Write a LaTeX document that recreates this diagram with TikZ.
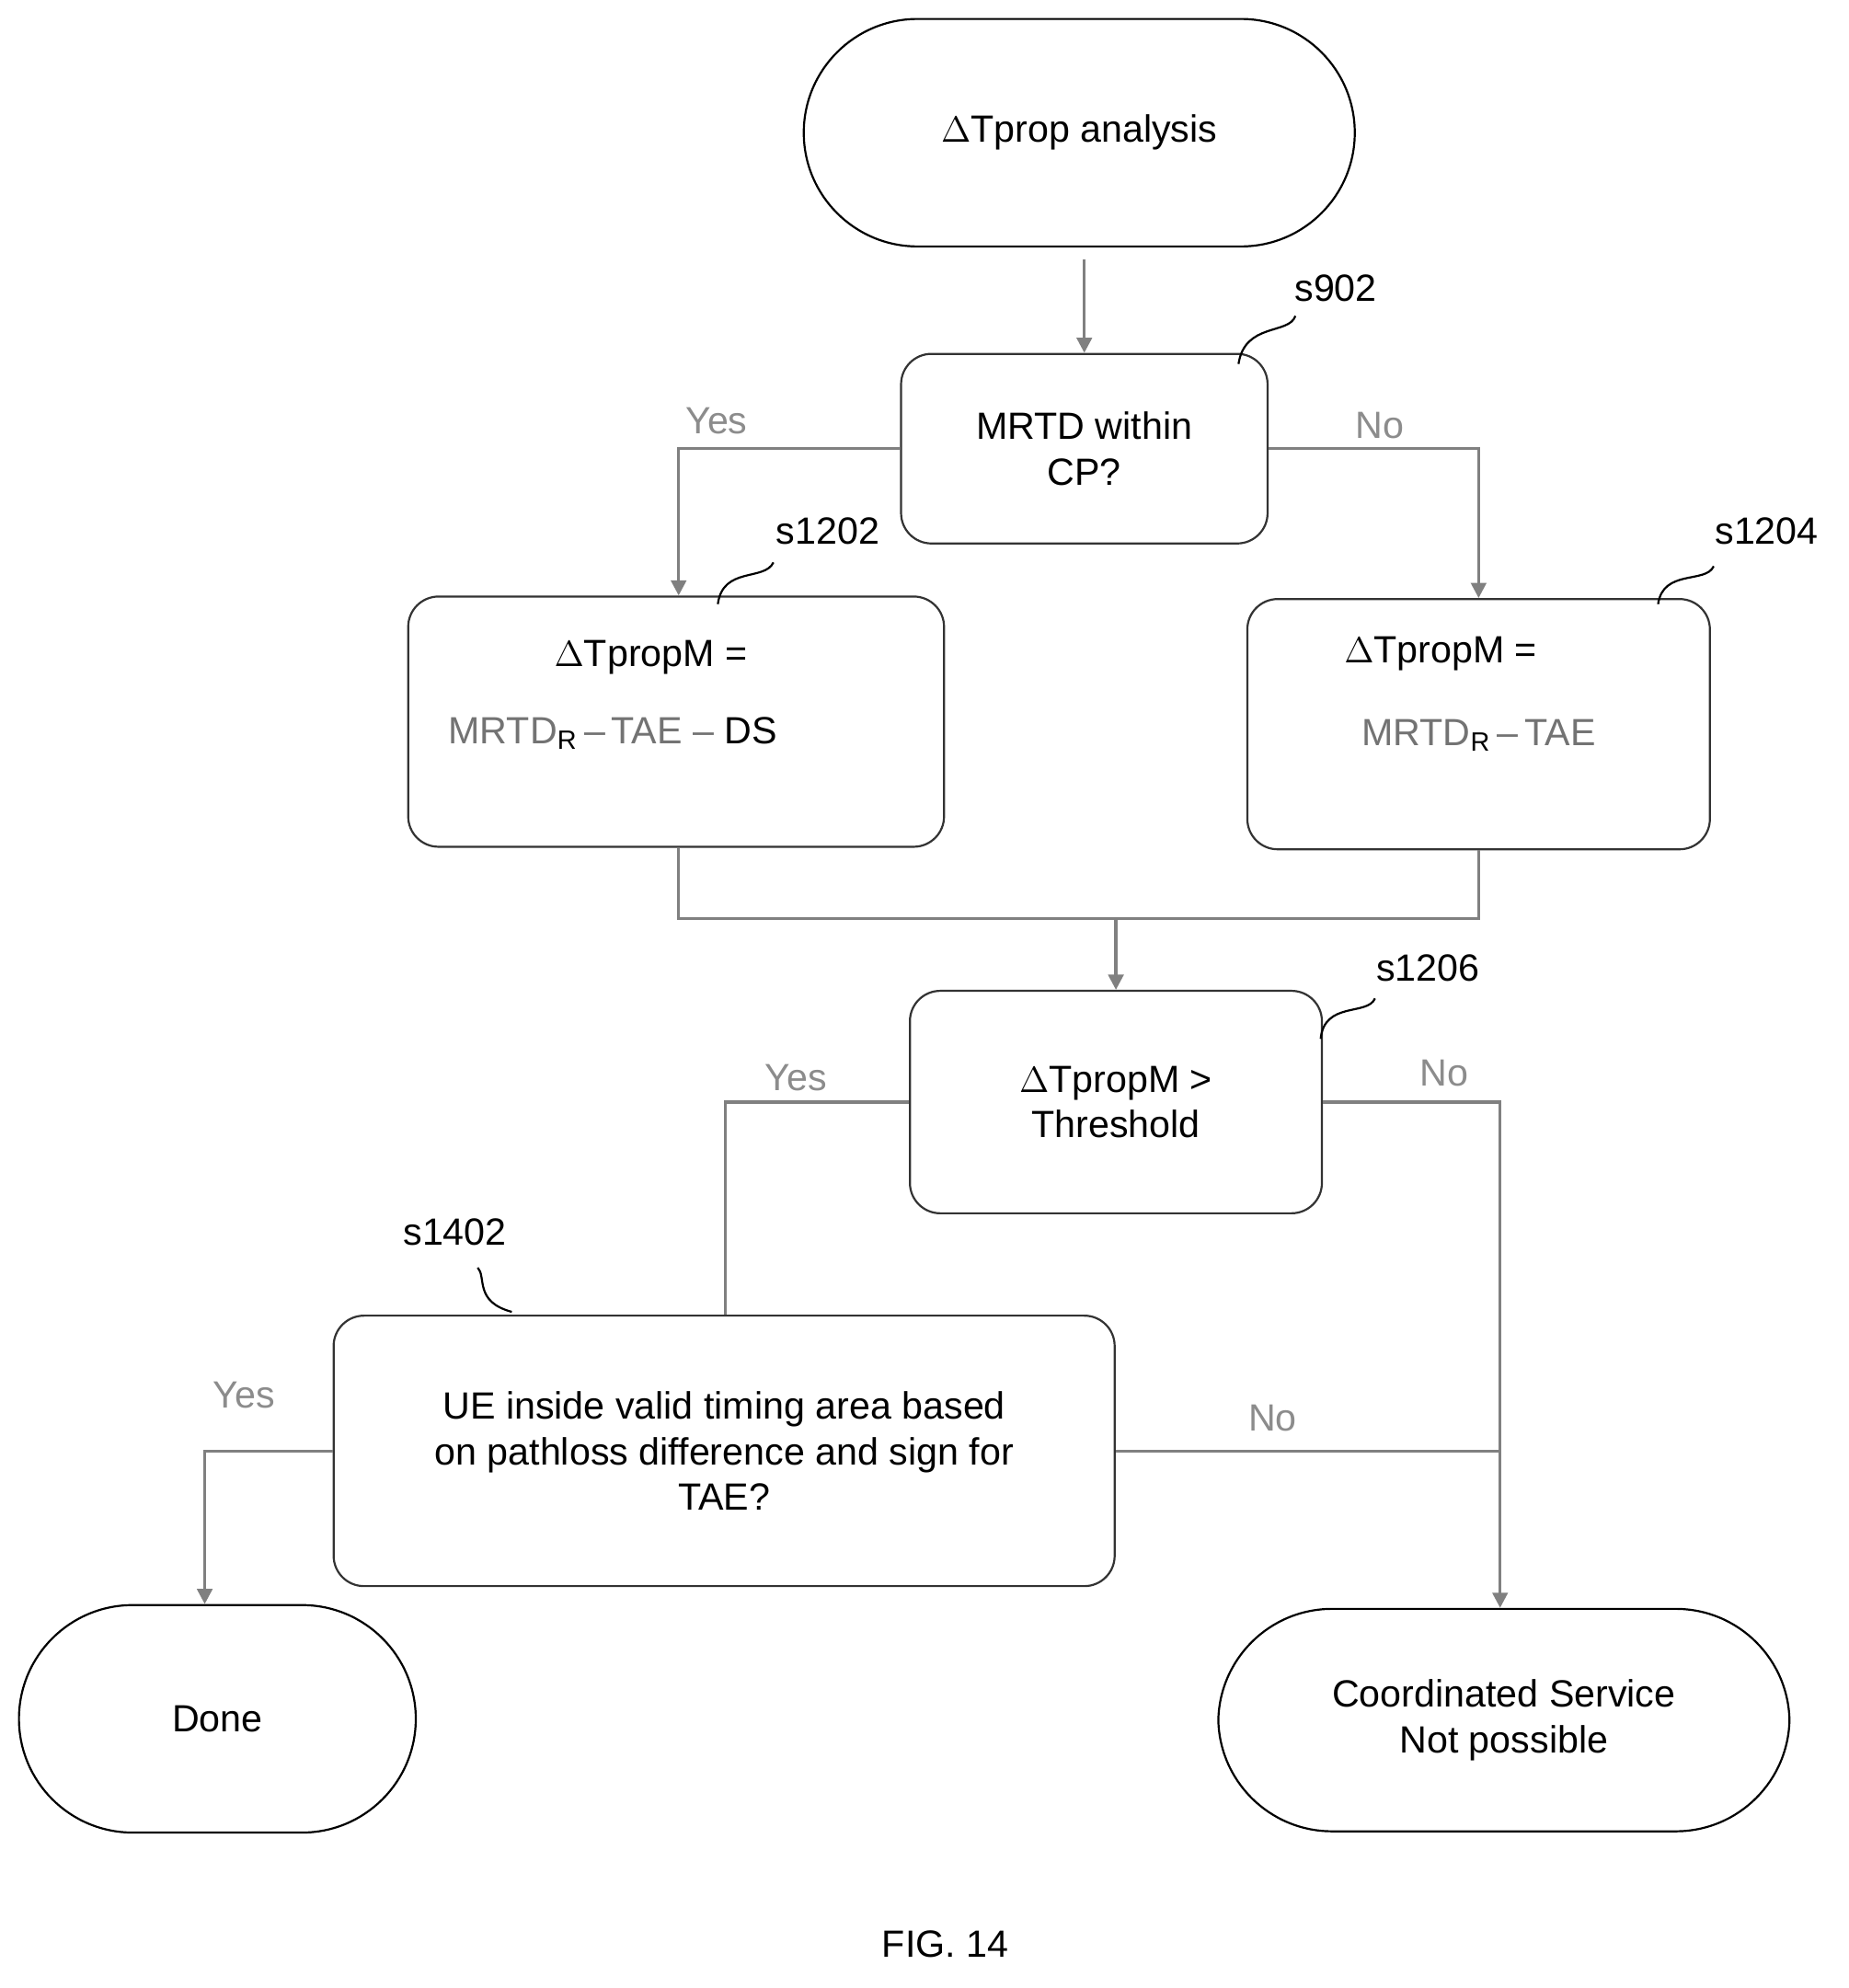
\documentclass[tikz,border=0pt]{standalone}
\usepackage{fontspec}
\setmainfont{Liberation Sans}
\usetikzlibrary{arrows.meta}
\begin{document}
\begin{tikzpicture}[x=0.5pt,y=-0.5pt,
  font=\fontsize{15}{18}\selectfont,
  box/.style={draw=black!80,line width=0.8pt,rounded corners=12pt,align=center},
  term/.style={draw=black,line width=0.8pt,rounded corners=45pt,align=center},
  conn/.style={draw=black!50,line width=1.2pt},
  arr/.style={conn,-{Triangle[length=6pt,width=6pt]}},
  lbl/.style={text=black!45},
  ref/.style={font=\fontsize{15}{18}\selectfont}]
\useasboundingbox (0,0) rectangle (1463,1573);
\node[term,minimum width=218pt,minimum height=90pt] (start) at (854,105) {$\Delta$Tprop analysis};
\node[box,minimum width=145pt,minimum height=75pt] (s902) at (858,355) {MRTD within\\CP?};
\node[box,minimum width=212pt,minimum height=99pt] (s1202) at (535,571) {};
\node at (515,520) {$\Delta$TpropM =};
\node at (485,580) {\textcolor{black!55}{MRTD\textsubscript{\textcolor{black}{R}}\,–\,TAE –} DS};
\node[box,minimum width=183pt,minimum height=99pt] (s1204) at (1170,573) {};
\node at (1140,517) {$\Delta$TpropM =};
\node at (1170,582) {\textcolor{black!55}{MRTD\textsubscript{\textcolor{black}{R}}\,–\,TAE}};
\node[box,minimum width=163pt,minimum height=88pt] (s1206) at (883,872) {$\Delta$TpropM >\\Threshold};
\node[box,minimum width=309pt,minimum height=107pt] (s1402) at (573,1148) {UE inside valid timing area based\\on pathloss difference and sign for\\TAE?};
\node[term,minimum width=157pt,minimum height=90pt] (done) at (172,1360) {Done};
\node[term,minimum width=226pt,minimum height=88pt] (cs) at (1190,1361) {Coordinated Service\\Not possible};
\node at (748,1538) {FIG. 14};
% refs
\node[ref] (r902) at (1057,228) {s902};
\node[ref] (r1202) at (655,420) {s1202};
\node[ref] (r1204) at (1398,420) {s1204};
\node[ref] (r1206) at (1130,766) {s1206};
\node[ref] (r1402) at (360,975) {s1402};
\draw[line width=0.8pt] (980,288) .. controls (985,255) and (1020,265) .. (1025,250);
\draw[line width=0.8pt] (568,478) .. controls (572,448) and (605,460) .. (612,445);
\draw[line width=0.8pt] (1312,478) .. controls (1316,450) and (1350,462) .. (1356,448);
\draw[line width=0.8pt] (1045,822) .. controls (1048,792) and (1082,804) .. (1088,790);
\draw[line width=0.8pt] (405,1038) .. controls (375,1030) and (385,1010) .. (378,1003);
% connectors
\coordinate (a1) at (858,205);
\draw[arr] (a1) -- (s902.north);
\draw[arr] (s902.west) -- (537,355) -- (537,355 |- s1202.north);
\node[lbl] at (567,333) {Yes};
\draw[arr] (s902.east) -- (1170,355) -- (1170,355 |- s1204.north);
\node[lbl] at (1092,337) {No};
\draw[conn] (537,355 |- s1202.south) -- (537,727) -- (1170,727) -- (1170,355 |- s1204.south);
\coordinate (m) at (883,727);
\draw[arr] (m) -- (s1206.north);
\draw[conn] (s1206.west) -- (574,872) -- (574,872 |- s1402.north);
\node[lbl] at (630,853) {Yes};
\draw[arr] (s1206.east) -- (1187,872) -- (1187,872 |- cs.north);
\node[lbl] at (1143,849) {No};
\draw[arr] (s1402.west) -- (162,1148) -- (162,1148 |- done.north);
\node[lbl] at (193,1104) {Yes};
\draw[conn] (s1402.east) -- (1187,1148);
\node[lbl] at (1007,1122) {No};
\end{tikzpicture}
\end{document}
